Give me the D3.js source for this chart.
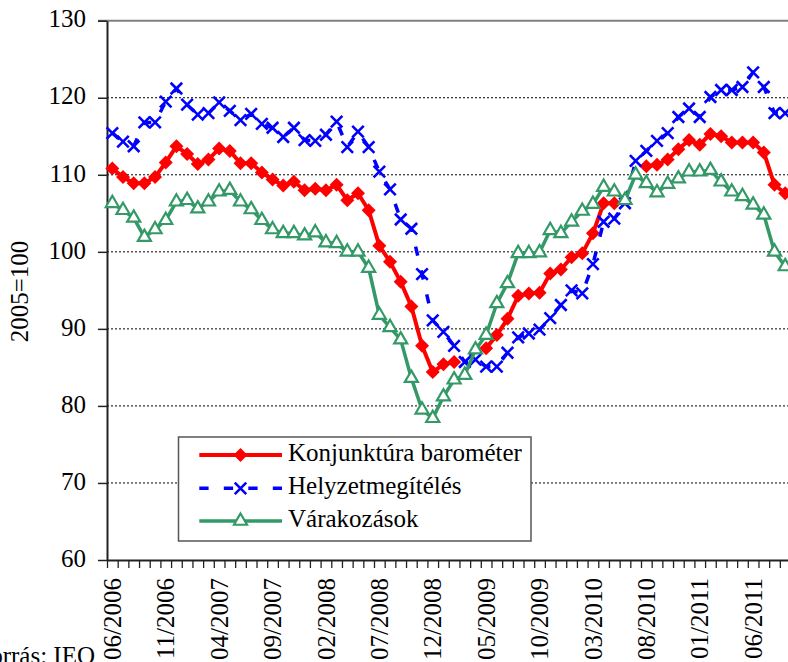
<!DOCTYPE html>
<html>
<head>
<meta charset="utf-8">
<script src="https://cdn.jsdelivr.net/npm/d3@7"></script>
<style>
  body { margin: 0; background: #fff; }
  svg text { font-family: "Liberation Serif", "Times New Roman", serif; }
</style>
</head>
<body>
<script>
// havi adatok, 2006.06 - 2011.09
var months = [
  '06/2006','07/2006','08/2006','09/2006','10/2006','11/2006','12/2006',
  '01/2007','02/2007','03/2007','04/2007','05/2007','06/2007','07/2007','08/2007','09/2007','10/2007','11/2007','12/2007',
  '01/2008','02/2008','03/2008','04/2008','05/2008','06/2008','07/2008','08/2008','09/2008','10/2008','11/2008','12/2008',
  '01/2009','02/2009','03/2009','04/2009','05/2009','06/2009','07/2009','08/2009','09/2009','10/2009','11/2009','12/2009',
  '01/2010','02/2010','03/2010','04/2010','05/2010','06/2010','07/2010','08/2010','09/2010','10/2010','11/2010','12/2010',
  '01/2011','02/2011','03/2011','04/2011','05/2011','06/2011','07/2011','08/2011','09/2011'
];
var tickLabels = ['06/2006','11/2006','04/2007','09/2007','02/2008','07/2008','12/2008',
  '05/2009','10/2009','03/2010','08/2010','01/2011','06/2011'];
var yTicks = [60, 70, 80, 90, 100, 110, 120, 130];

var barometer = [
  110.8,109.7,108.9,108.9,109.7,111.6,113.7,
  112.7,111.4,112.0,113.4,113.1,111.5,111.5,110.3,109.4,108.6,109.1,108.0,
  108.2,108.0,108.7,106.7,107.6,105.4,100.8,98.7,96.1,92.9,87.8,84.4,
  85.4,85.7,null,null,87.5,89.2,91.3,94.3,94.6,94.7,97.2,97.7,
  99.3,99.8,102.4,106.3,106.3,null,null,111.1,111.3,112.0,113.3,114.5,
  113.9,115.3,115.0,114.2,114.2,114.2,112.9,108.7,107.6
];
var helyzet = [
  115.4,114.3,113.7,116.8,116.8,119.5,121.2,
  119.1,117.8,118.0,119.4,118.3,117.1,117.9,116.6,116.1,114.9,116.1,114.5,
  114.4,115.2,116.9,113.6,115.6,113.6,110.4,108.1,104.2,103.0,97.1,91.1,
  89.6,87.8,85.7,86.0,85.1,85.1,86.9,88.9,89.4,89.9,91.4,93.1,
  95.0,94.6,98.4,103.9,104.3,106.3,111.8,113.1,114.4,115.4,117.5,118.6,
  117.5,120.1,121.0,121.0,121.4,123.3,121.4,118.0,118.0
];
var varakozas = [
  106.3,105.4,104.4,101.9,102.9,104.1,106.5,
  106.7,105.6,106.5,107.8,108.0,106.5,105.5,104.1,102.9,102.4,102.4,102.1,
  102.5,101.2,101.1,100.0,100.0,97.9,91.8,90.2,88.6,83.6,79.5,78.4,
  81.2,83.4,84.0,87.3,89.2,93.3,95.9,99.8,99.8,99.9,102.8,102.4,
  103.9,105.3,106.2,108.4,107.8,106.7,110.0,108.9,107.7,108.8,109.5,110.4,
  110.4,110.6,109.1,107.8,107.2,106.1,104.8,100.0,98.1
];
var seriesNames = ['Konjunktúra barométer', 'Helyzetmegítélés', 'Várakozások'];

var width = 788;
var height = 662;
var pad = { left: 107, top: 20.7, bottom: 560 };
var step = 10.68;
var plotRight = pad.left + step * months.length;
var serif = '"Liberation Serif", "Times New Roman", serif';
var fontSize = '25px';

var svg = d3.select('body')
  .append('svg')
  .attr('width', width)
  .attr('height', height);

var xScale = d3.scaleBand()
  .domain(months)
  .range([pad.left, plotRight])
  .padding(0);
var bound = d3.scaleLinear()
  .domain([0, months.length])
  .range([pad.left, plotRight]);
var yScale = d3.scaleLinear()
  .domain([60, 130])
  .range([pad.bottom, pad.top]);

function cx(d, i) { return xScale(months[i]) + xScale.bandwidth() / 2; }

// rácsvonalak
svg.append('g')
  .selectAll('line')
  .data(yTicks.filter(function (v) { return v > 60 && v < 130; }))
  .enter()
  .append('line')
  .attr('x1', pad.left).attr('x2', width)
  .attr('y1', function (d) { return yScale(d); })
  .attr('y2', function (d) { return yScale(d); })
  .attr('stroke', '#000')
  .attr('stroke-width', 1)
  .attr('stroke-dasharray', '2,2');

svg.append('line')
  .attr('x1', pad.left - 9).attr('x2', width)
  .attr('y1', yScale(130)).attr('y2', yScale(130))
  .attr('stroke', '#808080')
  .attr('stroke-width', 2);

// y tengely
var yAxis = d3.axisLeft(yScale)
  .tickValues(yTicks)
  .tickSize(9)
  .tickPadding(12)
  .tickSizeOuter(0);
var gy = svg.append('g')
  .attr('class', 'yaxis')
  .attr('transform', 'translate(' + pad.left + ',0)')
  .call(yAxis);
gy.select('.domain').attr('stroke', '#222').attr('stroke-width', 2);
gy.selectAll('.tick line').attr('stroke', '#222').attr('stroke-width', 1.5);
gy.selectAll('.tick text')
  .attr('dy', '0.25em')
  .attr('fill', '#000')
  .style('font-size', fontSize)
  .style('font-family', serif);

// x tengely: osztások a hónapok határán
var xTicksAxis = d3.axisBottom(bound)
  .tickValues(d3.range(months.length + 1))
  .tickSize(8)
  .tickSizeOuter(0)
  .tickFormat('');
var gx = svg.append('g')
  .attr('transform', 'translate(0,' + pad.bottom + ')')
  .call(xTicksAxis);
gx.select('.domain').attr('stroke', '#222').attr('stroke-width', 2);
gx.selectAll('.tick line').attr('stroke', '#222').attr('stroke-width', 1.3);

var xLabelAxis = d3.axisBottom(xScale)
  .tickValues(tickLabels)
  .tickSize(0);
var gxl = svg.append('g')
  .attr('transform', 'translate(0,' + pad.bottom + ')')
  .call(xLabelAxis);
gxl.select('.domain').remove();
gxl.selectAll('.tick text')
  .attr('transform', 'rotate(-90)')
  .attr('x', -18)
  .attr('y', 0)
  .attr('dy', '0.35em')
  .attr('fill', '#000')
  .style('text-anchor', 'end')
  .style('font-size', fontSize)
  .style('font-family', serif);

// tengelycím és forrás
svg.append('text')
  .attr('transform', 'translate(28,291.5) rotate(-90)')
  .attr('text-anchor', 'middle')
  .style('font-size', fontSize)
  .style('font-family', serif)
  .text('2005=100');

svg.append('text')
  .attr('x', 95)
  .attr('y', 664)
  .attr('text-anchor', 'end')
  .style('font-size', fontSize)
  .style('font-family', serif)
  .text('Forrás: IEO');

// vonalak
var linePath = d3.line()
  .defined(function (d) { return d != null; })
  .x(cx)
  .y(function (d) { return yScale(d); });

var timesSym = d3.symbolTimes || d3.symbolCross;
var styles = [
  { data: barometer, color: '#ff0000', width: 4, dash: null,
    sym: d3.symbol(d3.symbolSquare, 98), rot: 45, fill: '#ff0000', sw: 0 },
  { data: helyzet, color: '#0000ff', width: 3.5, dash: '9.3,15.2',
    sym: d3.symbol(timesSym, 88), rot: 0, fill: 'none', sw: 2.6 },
  { data: varakozas, color: '#339966', width: 3.5, dash: null,
    sym: d3.symbol(d3.symbolTriangle, 74), rot: 0, fill: '#fff', sw: 2.2 }
];

styles.forEach(function (s) {
  var g = svg.append('g');
  g.append('path')
    .attr('fill', 'none')
    .attr('stroke', s.color)
    .attr('stroke-width', s.width)
    .attr('stroke-linejoin', 'round')
    .attr('stroke-dasharray', s.dash)
    .attr('d', linePath(s.data));
  g.selectAll('path.mark')
    .data(s.data.map(function (v, i) { return { v: v, i: i }; })
      .filter(function (d) { return d.v != null; }))
    .enter()
    .append('path')
    .attr('class', 'mark')
    .attr('d', s.sym)
    .attr('transform', function (d) {
      return 'translate(' + cx(d.v, d.i) + ',' + yScale(d.v) + ') rotate(' + s.rot + ')';
    })
    .attr('fill', s.fill)
    .attr('stroke', s.sw ? s.color : 'none')
    .attr('stroke-width', s.sw);
});

// jelmagyarázat
var legend = svg.append('g');
legend.append('rect')
  .attr('x', 178.5).attr('y', 437)
  .attr('width', 352.5).attr('height', 104)
  .attr('fill', '#fff')
  .attr('stroke', '#555')
  .attr('stroke-width', 1.5);

var rows = [455, 488.3, 521];
styles.forEach(function (s, k) {
  var ly = rows[k];
  legend.append('line')
    .attr('x1', 199.3).attr('x2', 282)
    .attr('y1', ly).attr('y2', ly)
    .attr('stroke', s.color)
    .attr('stroke-width', s.width)
    .attr('stroke-dasharray', s.dash);
  legend.append('path')
    .attr('d', s.sym)
    .attr('transform', 'translate(240.5,' + ly + ') rotate(' + s.rot + ')')
    .attr('fill', s.fill)
    .attr('stroke', s.sw ? s.color : 'none')
    .attr('stroke-width', s.sw);
  legend.append('text')
    .attr('x', 288)
    .attr('y', ly + 6)
    .style('font-size', fontSize)
    .style('font-family', serif)
    .text(seriesNames[k]);
});
</script>
</body>
</html>
